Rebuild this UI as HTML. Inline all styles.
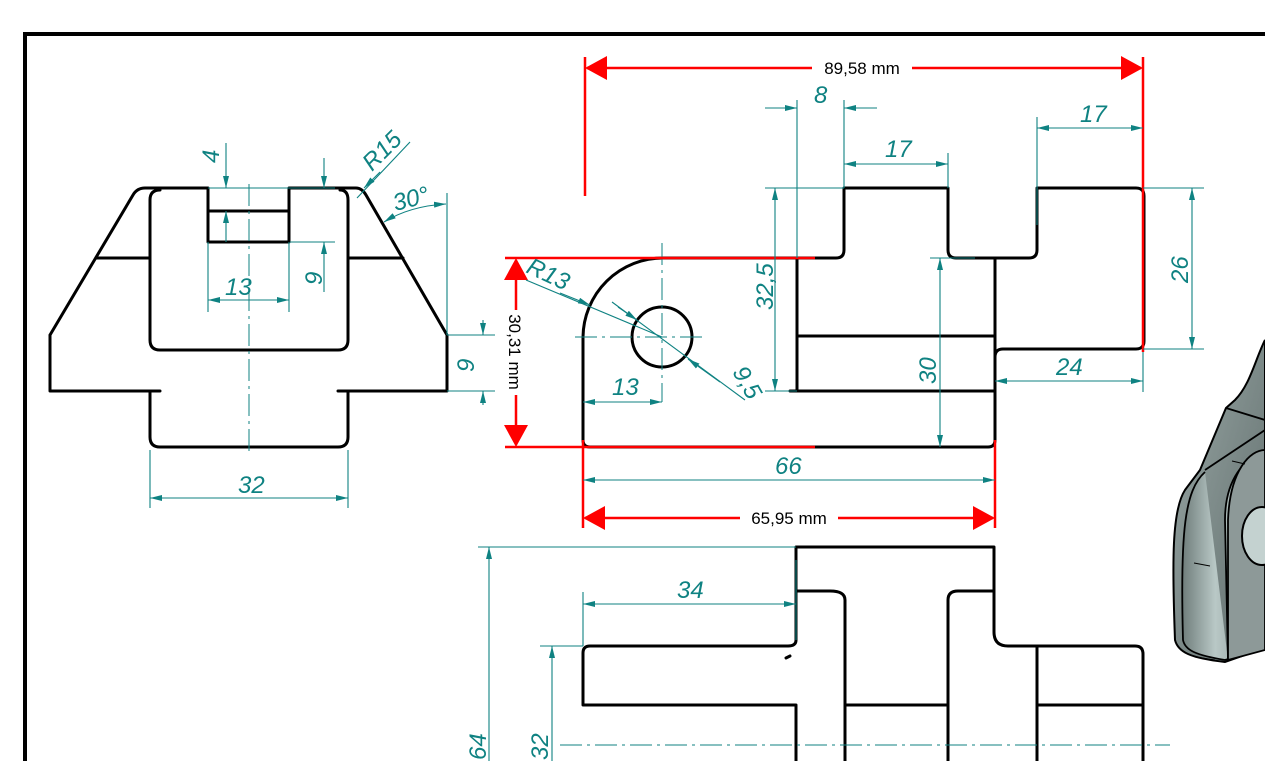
<!DOCTYPE html>
<html><head><meta charset="utf-8"><style>
html,body{margin:0;padding:0;background:#fff;}
svg{display:block;}
.k{stroke:#000;stroke-width:3;fill:none;stroke-linecap:round;stroke-linejoin:round}
.t{stroke:#0f8282;stroke-width:1.1;fill:none}
.c{stroke:#0f8282;stroke-width:1;fill:none;stroke-dasharray:22 5 3 5}
.r{stroke:#f00;stroke-width:2.5;fill:none}
.tx{font-family:"Liberation Sans",sans-serif;font-style:italic;font-size:24px;fill:#0f8282;}
.rt{font-family:"Liberation Sans",sans-serif;font-size:17px;fill:#000;}
</style></head><body>
<svg width="1265" height="761" viewBox="0 0 1265 761" xmlns="http://www.w3.org/2000/svg">
<defs>
<marker id="a" viewBox="0 0 12 6" refX="12" refY="3" markerWidth="12" markerHeight="6" markerUnits="userSpaceOnUse" orient="auto-start-reverse"><path d="M0,0L12,3L0,6z" fill="#0f8282"/></marker>
<marker id="ra" viewBox="0 0 22 24" refX="22" refY="12" markerWidth="22" markerHeight="24" markerUnits="userSpaceOnUse" orient="auto-start-reverse"><path d="M0,0L22,12L0,24z" fill="#f00"/></marker>
<linearGradient id="g" x1="0" y1="0" x2="1" y2="0"><stop offset="0" stop-color="#6f7d7b"/><stop offset="0.4" stop-color="#b9c8c6"/><stop offset="1" stop-color="#7d8c8a"/></linearGradient>
<linearGradient id="g2" x1="0" y1="0" x2="1" y2="1"><stop offset="0" stop-color="#9aa8a6"/><stop offset="1" stop-color="#5f6c6b"/></linearGradient>
</defs>
<!-- frame -->
<path d="M25,761V34H1265" stroke="#000" stroke-width="4" fill="none"/>

<!-- 3D part -->
<path d="M1265,340 C1255,360 1250,385 1235,400 L1226,408 L1200,470 L1185,490 C1172,510 1172,560 1175,640 C1178,652 1190,658 1225,662 L1265,648 Z" fill="url(#g2)" stroke="#000" stroke-width="2"/>
<path d="M1226,408 L1265,420 M1205,470 L1265,430" stroke="#000" stroke-width="1.8" fill="none"/>
<path d="M1205,472 C1185,490 1180,530 1183,640 C1185,650 1195,655 1225,660 L1265,648 L1265,455 C1245,455 1225,480 1225,520 L1228,660" fill="url(#g)" stroke="#000" stroke-width="1.8"/>
<path d="M1228,520 C1230,470 1250,450 1265,450 L1265,650 L1228,660 Z" fill="#8d9998" stroke="#000" stroke-width="1.8"/>
<ellipse cx="1262" cy="536" rx="20" ry="29" fill="#c4d2d0" stroke="#000" stroke-width="2"/>
<path d="M1232,461 L1245,464 M1194,563 L1210,566 M1195,657 L1215,660" stroke="#000" stroke-width="1"/>

<!-- LEFT VIEW -->
<path class="k" d="M50,335 L133,195 Q137,188 145,188 L208,188 M208,188V242H289V188 M208,211H289 M289,188H356 Q362,188 366,195 L447,335 V391 H338 M160,391H50V335"/>
<path class="k" d="M150,200 Q150,190 160,190 M150,200V340 Q150,350 160,350 H338 Q348,350 348,340 V200 Q348,190 340,190"/>
<path class="k" d="M96,258H150 M348,258H403"/>
<path class="k" d="M150,391V437 Q150,447 160,447 H338 Q348,447 348,437 V391"/>
<path class="c" d="M249,184V452"/>
<!-- left dims -->
<path class="t" d="M150,450V508 M348,450V508"/>
<path class="t" d="M150,498H348" marker-start="url(#a)" marker-end="url(#a)"/>
<text class="tx" x="238" y="493">32</text>
<path class="t" d="M208,242V312 M289,242V312"/>
<path class="t" d="M208,300H289" marker-start="url(#a)" marker-end="url(#a)"/>
<text class="tx" x="225" y="295">13</text>
<path class="t" d="M226,143V188" marker-end="url(#a)"/>
<path class="t" d="M226,242V211" marker-end="url(#a)"/>
<path class="t" d="M208,188H300 M290,242H335"/>
<text class="tx" transform="translate(219,163) rotate(-90)">4</text>
<path class="t" d="M324,158V188" marker-end="url(#a)"/>
<path class="t" d="M324,292V242" marker-end="url(#a)"/>
<path class="t" d="M289,188H335"/>
<text class="tx" transform="translate(322,285) rotate(-90)">9</text>
<path class="t" d="M357,198 L410,142"/>
<path class="t" d="M380,172 L364,188" marker-end="url(#a)"/>
<text class="tx" transform="translate(372,172) rotate(-45)">R15</text>
<path class="t" d="M447,193V335 M447,335H495 M447,391H495"/>
<path class="t" d="M384,222 Q410,206 446,204" marker-start="url(#a)" marker-end="url(#a)"/>
<text class="tx" x="393" y="207" transform="rotate(-15 410 200)">30°</text>
<path class="t" d="M483,320V335" marker-end="url(#a)"/>
<path class="t" d="M483,405V391" marker-end="url(#a)"/>
<text class="tx" transform="translate(474,372) rotate(-90)">9</text>

<!-- FRONT VIEW -->
<path class="k" d="M583,440 V337 A80,80 0 0 1 663,258 H836 Q844,258 844,250 V188 H948 V250 Q948,258 956,258 H1029 Q1037,258 1037,250 V188 H1136 Q1144,188 1144,196 V341 Q1144,349 1136,349 H1003 Q995,349 995,357 M995,258V440 Q995,447 988,447 H590 Q583,447 583,440"/>
<path class="k" d="M797,258V391 M797,336H995 M790,391H995"/>
<circle cx="662" cy="337" r="30" class="k"/>
<path class="c" d="M575,337H705 M662,243V402"/>
<!-- red dims -->
<path class="r" d="M585,57V196 M1143,57V352"/>
<path class="r" d="M587,68H812 M912,68H1141"/>
<path d="M585,68l22,-12v24z M1143,68l-22,-12v24z" fill="#f00"/>
<rect x="812" y="58" width="100" height="20" fill="#fff"/>
<text class="rt" x="862" y="74" text-anchor="middle">89,58 mm</text>
<path class="r" d="M505,258H815 M505,447H815"/>
<path class="r" d="M516,270V310 M516,395V435"/>
<path d="M516,258l-12,22h24z M516,447l-12,-22h24z" fill="#f00"/>
<text class="rt" transform="translate(509,352) rotate(90)" text-anchor="middle">30,31 mm</text>
<path class="r" d="M583,440V528 M995,440V528"/>
<path class="r" d="M585,518H740 M838,518H993"/>
<path d="M583,518l22,-12v24z M995,518l-22,-12v24z" fill="#f00"/>
<text class="rt" x="789" y="524" text-anchor="middle">65,95 mm</text>
<!-- teal front dims -->
<path class="t" d="M583,480H995" marker-start="url(#a)" marker-end="url(#a)"/>
<text class="tx" x="775" y="474">66</text>
<path class="t" d="M583,402H662" marker-start="url(#a)" marker-end="url(#a)"/>
<text class="tx" x="612" y="395">13</text>
<path class="t" d="M526,280 L662,337"/>
<path class="t" d="M560,293 L590,305" marker-end="url(#a)"/>
<text class="tx" transform="translate(525,272) rotate(25)">R13</text>
<path class="t" d="M612,302 L745,400"/>
<path class="t" d="M618,307 L637,320" marker-end="url(#a)"/>
<path class="t" d="M720,382 L688,359" marker-end="url(#a)"/>
<text class="tx" transform="translate(732,372) rotate(60)">9,5</text>
<path class="t" d="M765,188H844 M765,391H797"/>
<path class="t" d="M775,188V391" marker-start="url(#a)" marker-end="url(#a)"/>
<text class="tx" transform="translate(773,310) rotate(-90)">32,5</text>
<path class="t" d="M797,100V258 M844,100V188"/>
<path class="t" d="M765,108H797" marker-end="url(#a)"/>
<path class="t" d="M877,108H844" marker-end="url(#a)"/>
<text class="tx" x="814" y="103">8</text>
<path class="t" d="M948,153V188"/>
<path class="t" d="M844,164H948" marker-start="url(#a)" marker-end="url(#a)"/>
<text class="tx" x="885" y="157">17</text>
<path class="t" d="M1037,117V225"/>
<path class="t" d="M1037,128H1143" marker-start="url(#a)" marker-end="url(#a)"/>
<text class="tx" x="1080" y="122">17</text>
<path class="t" d="M1143,188H1204 M1143,349H1204"/>
<path class="t" d="M1192,188V349" marker-start="url(#a)" marker-end="url(#a)"/>
<text class="tx" transform="translate(1188,283) rotate(-90)">26</text>
<path class="t" d="M930,258H975"/>
<path class="t" d="M940,258V447" marker-start="url(#a)" marker-end="url(#a)"/>
<text class="tx" transform="translate(936,384) rotate(-90)">30</text>
<path class="t" d="M1143,352V392"/>
<path class="t" d="M995,381H1143" marker-start="url(#a)" marker-end="url(#a)"/>
<text class="tx" x="1056" y="375">24</text>

<!-- BOTTOM VIEW -->
<path class="k" d="M796,640V547H994V632 Q994,646 1008,646 H1135 Q1143,646 1143,654 V761"/>
<path class="k" d="M796,640 Q796,646 788,646 H590 Q583,646 583,653 V705 H796 V761 M790,656 L786,658"/>
<path class="k" d="M796,591H830 Q845,591 845,600 V761 M994,591H958 Q948,591 948,600 V761"/>
<path class="k" d="M1037,646V761 M845,705H948 M1037,705H1143"/>
<path class="c" d="M560,745H1170"/>
<path class="t" d="M478,547H796 M540,646H583 M583,592V646 M796,560V640"/>
<path class="t" d="M489,761V547" marker-end="url(#a)"/>
<text class="tx" transform="translate(486,760) rotate(-90)">64</text>
<path class="t" d="M552,761V646" marker-end="url(#a)"/>
<text class="tx" transform="translate(548,760) rotate(-90)">32</text>
<path class="t" d="M583,604H796" marker-start="url(#a)" marker-end="url(#a)"/>
<text class="tx" x="677" y="598">34</text>
</svg>
</body></html>
